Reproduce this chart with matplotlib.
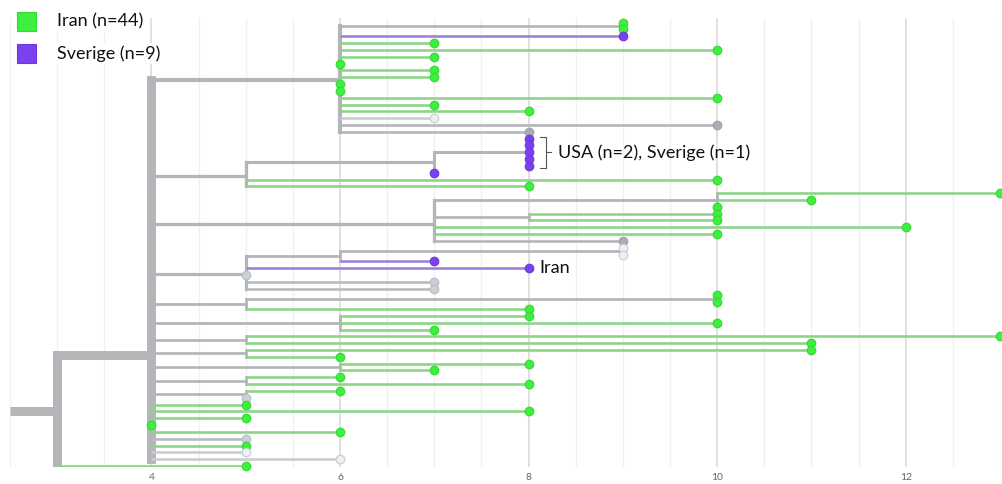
import numpy as np
import matplotlib.pyplot as plt
from matplotlib.patches import Rectangle

plt.rcParams['font.family'] = ['Lato', 'DejaVu Sans']

# internal nodes: divergence (mutations) and parent index (-1 = root)
node_div = [3, 4, 6, 9, 5, 7, 8, 7, 10, 8, 5, 6, 9, 5, 10, 6, 5, 5, 6, 5, 5]
node_parent = [-1, 0, 1, 2, 1, 4, 5, 1, 7, 7, 1, 10, 11, 1, 13, 1, 1, 1, 1, 1, 1]

# tips, listed top to bottom
tip_div = [9, 9, 9, 7, 10, 7, 6, 7, 7, 6, 6, 10, 7, 8, 7, 10, 8,
           8, 8, 8, 8, 8, 7, 10, 8,
           13, 11, 10, 10, 10, 12, 10, 9,
           9, 9, 7, 8, 5, 7, 7,
           10, 10, 8, 8, 10, 7, 13, 11, 11, 6, 8, 7, 6, 8, 6, 5,
           5, 8, 5, 4, 6, 5, 5, 5, 6, 5]
tip_parent = [3, 3, 2, 2, 2, 2, 2, 2, 2, 2, 2, 2, 2, 2, 2, 2, 2,
              6, 6, 6, 6, 6, 5, 4, 4,
              8, 8, 8, 9, 9, 7, 7, 7,
              12, 12, 11, 10, 10, 10, 10,
              14, 14, 13, 15, 15, 15, 16, 16, 17, 17, 18, 18, 19, 19, 20, 20,
              1, 1, 1, 1, 1, 1, 1, 1, 1, 0]
tip_region = ['Iran', 'Iran', 'Sverige', 'Iran', 'Iran', 'Iran', 'Iran', 'Iran',
              'Iran', 'Iran', 'Iran', 'Iran', 'Iran', 'Iran', 'pale', 'other', 'other',
              'Sverige', 'Sverige', 'Sverige', 'Sverige', 'Sverige', 'Sverige',
              'Iran', 'Iran',
              'Iran', 'Iran', 'Iran', 'Iran', 'Iran', 'Iran', 'Iran', 'other',
              'pale', 'pale', 'Sverige', 'Sverige', 'light', 'light', 'light',
              'Iran', 'Iran', 'Iran', 'Iran', 'Iran', 'Iran', 'Iran', 'Iran',
              'Iran', 'Iran', 'Iran', 'Iran', 'Iran', 'Iran', 'Iran', 'light',
              'Iran', 'Iran', 'Iran', 'Iran', 'Iran', 'light', 'Iran', 'pale',
              'pale', 'Iran']

x_ticks = [4, 6, 8, 10, 12]
root_start = 2.5

# colours: (tip fill, tip edge, branch)
palette = {
    'Iran':    ('#3df03d', '#35d835', '#8dd488'),
    'Sverige': ('#7b40f0', '#6e38de', '#9a82dc'),
    'other':   ('#a9adb5', '#9ea2aa', '#b4b5b8'),
    'light':   ('#cacfd6', '#b8bdc5', '#b9babd'),
    'pale':    ('#eef1f4', '#c6cbd3', '#cbcccf'),
}
gray = '#b4b5b8'

n_tips = len(tip_div)
n_nodes = len(node_div)
tip_y = np.arange(n_tips, dtype=float)

# children of every internal node (y values) and tip counts
node_y = np.zeros(n_nodes)
node_count = np.zeros(n_nodes, dtype=int)
child_ys = [[] for _ in range(n_nodes)]
for i, p in enumerate(tip_parent):
    child_ys[p].append(tip_y[i])
    node_count[p] += 1
for n in range(n_nodes - 1, -1, -1):
    node_y[n] = np.mean(child_ys[n])
    p = node_parent[n]
    if p >= 0:
        child_ys[p].append(node_y[n])
        node_count[p] += node_count[n]


def width(count):
    # px -> pt at 100 dpi
    return (2.5 + 6.5 * count / n_tips) * 0.72


fig = plt.figure(figsize=(10.02, 4.84), dpi=100)
px_row = 6.82
top_px, bot_px = 17.9, 467.0
ax = fig.add_axes([10 / 1002, 1 - bot_px / 484, 990 / 1002, (bot_px - top_px) / 484])
ax.set_xlim(2.5, 13.0)
ax.set_ylim(-0.7 + (bot_px - top_px) / px_row, -0.7)

# branches of internal nodes
for n in range(n_nodes):
    p = node_parent[n]
    x0 = root_start if p < 0 else node_div[p]
    lw = width(node_count[n])
    ax.plot([x0, node_div[n]], [node_y[n], node_y[n]], color=gray, lw=lw,
            solid_capstyle='butt', zorder=2)
    ys = child_ys[n]
    ax.plot([node_div[n], node_div[n]], [min(ys), max(ys)], color=gray, lw=lw,
            solid_capstyle='projecting', zorder=2)

# tip branches
for i in range(n_tips):
    x0 = node_div[tip_parent[i]]
    if tip_div[i] > x0:
        ax.plot([x0, tip_div[i]], [tip_y[i], tip_y[i]],
                color=palette[tip_region[i]][2], lw=width(1),
                solid_capstyle='butt', zorder=3)

# tips
for i in range(n_tips):
    fc, ec, _ = palette[tip_region[i]]
    ax.plot(tip_div[i], tip_y[i], 'o', ms=6.2, mfc=fc, mec=ec, mew=0.8,
            zorder=5, clip_on=False)

ax.set_xticks(x_ticks)
ax.set_xticks(np.arange(2.5, 13.01, 0.5), minor=True)
ax.set_yticks([])
ax.grid(which='minor', axis='x', color='#f0f0f0', lw=1)
ax.grid(which='major', axis='x', color='#dedede', lw=1.3)
ax.set_axisbelow(True)
ax.tick_params(axis='x', which='both', length=0, labelsize=7.5,
               labelcolor='#666666', pad=4)
for s in ax.spines.values():
    s.set_visible(False)

# bracket for the Swedish cluster
bx0, bx1, bx2 = 8.12, 8.18, 8.24
ax.plot([bx0, bx1, bx1, bx0], [16.7, 16.7, 21.3, 21.3], color='#555555', lw=0.8, zorder=4)
ax.plot([bx1, bx2], [19, 19], color='#555555', lw=0.8, zorder=4)
ax.text(8.31, 19, 'USA (n=2), Sverige (n=1)', fontsize=13, va='center', ha='left',
        color='#111111')
ax.text(8.11, 36, 'Iran', fontsize=13, va='center', ha='left', color='#111111')

# legend
counts = {r: tip_region.count(r) for r in ('Iran', 'Sverige')}
for k, (region, y_px) in enumerate([('Iran', 21.5), ('Sverige', 53.5)]):
    fc, ec, _ = palette[region]
    fig.add_artist(Rectangle((17 / 1002, 1 - (y_px + 9.5) / 484), 19 / 1002, 19 / 484,
                             transform=fig.transFigure, facecolor=fc, edgecolor=ec,
                             lw=0.8, zorder=6))
    fig.text(57 / 1002, 1 - y_px / 484, f'{region} (n={counts[region]})', fontsize=13,
             va='center', ha='left', color='#111111', zorder=6,
             bbox=dict(facecolor='white', edgecolor='none', pad=2))

fig.savefig('out.png', dpi=100)
